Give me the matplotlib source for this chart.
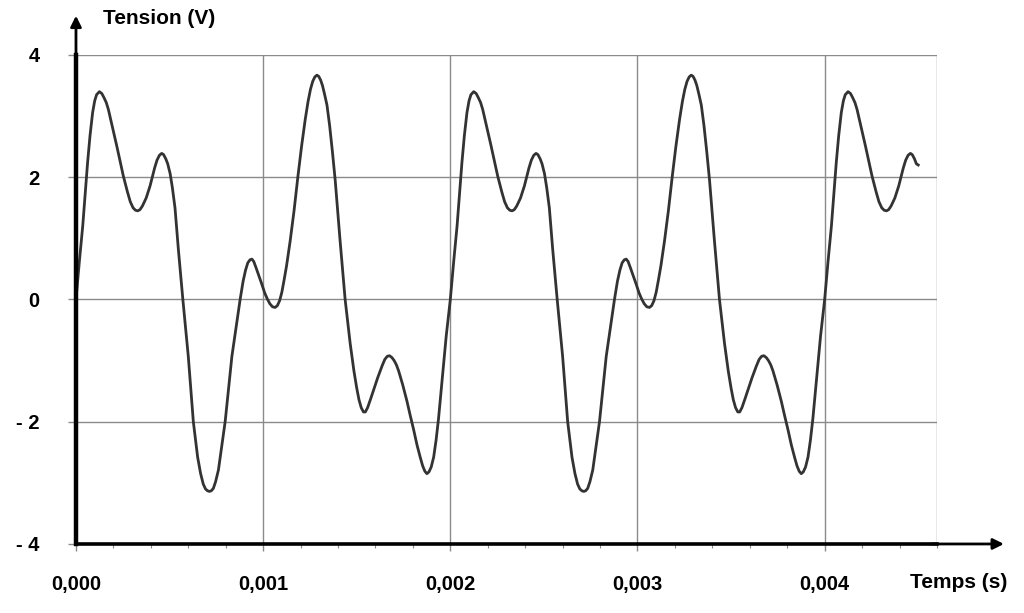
import numpy as np
import matplotlib

matplotlib.use('Agg')
import matplotlib.pyplot as plt
from matplotlib.ticker import FixedLocator, MultipleLocator

plt.rcParams['font.family'] = ['Liberation Sans', 'DejaVu Sans']

# Signal (time in ms, tension in V)
time_ms = [
    # 1st period
    0.000, 0.018, 0.036, 0.050, 0.062, 0.075, 0.089, 0.100, 0.110, 0.125,
    0.138, 0.150, 0.162, 0.173, 0.195, 0.218, 0.253, 0.275, 0.290, 0.305,
    0.318, 0.330, 0.342, 0.355, 0.375, 0.396, 0.420, 0.433, 0.446, 0.458,
    0.468, 0.480, 0.490, 0.503, 0.515, 0.529, 0.547, 0.571, 0.600, 0.627,
    0.650, 0.666, 0.680, 0.692, 0.703, 0.713, 0.723, 0.734, 0.746, 0.761,
    0.797, 0.833, 0.877, 0.893, 0.906, 0.918, 0.930, 0.940, 0.950, 0.962,
    0.978, 0.993, 1.008, 1.022, 1.036, 1.050, 1.064, 1.076, 1.088, 1.100,
    1.112, 1.125, 1.144, 1.165, 1.186, 1.205, 1.225, 1.240, 1.253, 1.265,
    1.276, 1.287, 1.297, 1.307, 1.317, 1.328, 1.341, 1.355, 1.370, 1.385,
    1.410, 1.438, 1.465, 1.485, 1.500, 1.512, 1.524, 1.536, 1.546, 1.558,
    1.575, 1.590, 1.612, 1.635, 1.650, 1.663, 1.675, 1.688, 1.700, 1.712,
    1.724, 1.746, 1.768, 1.786, 1.804, 1.822, 1.840, 1.852, 1.864, 1.875,
    1.886, 1.898, 1.911, 1.924, 1.937, 1.950, 1.964, 1.978, 1.991,
    # 2nd period
    2.000, 2.018, 2.036, 2.050, 2.062, 2.075, 2.089, 2.100, 2.110, 2.125,
    2.138, 2.150, 2.162, 2.173, 2.195, 2.218, 2.253, 2.275, 2.290, 2.305,
    2.318, 2.330, 2.342, 2.355, 2.375, 2.396, 2.420, 2.433, 2.446, 2.458,
    2.468, 2.480, 2.490, 2.503, 2.515, 2.529, 2.547, 2.571, 2.600, 2.627,
    2.650, 2.666, 2.680, 2.692, 2.703, 2.713, 2.723, 2.734, 2.746, 2.761,
    2.797, 2.833, 2.877, 2.893, 2.906, 2.918, 2.930, 2.940, 2.950, 2.962,
    2.978, 2.993, 3.008, 3.022, 3.036, 3.050, 3.064, 3.076, 3.088, 3.100,
    3.112, 3.125, 3.144, 3.165, 3.186, 3.205, 3.225, 3.240, 3.253, 3.265,
    3.276, 3.287, 3.297, 3.307, 3.317, 3.328, 3.341, 3.355, 3.370, 3.385,
    3.410, 3.438, 3.465, 3.485, 3.500, 3.512, 3.524, 3.536, 3.546, 3.558,
    3.575, 3.590, 3.612, 3.635, 3.650, 3.663, 3.675, 3.688, 3.700, 3.712,
    3.724, 3.746, 3.768, 3.786, 3.804, 3.822, 3.840, 3.852, 3.864, 3.875,
    3.886, 3.898, 3.911, 3.924, 3.937, 3.950, 3.964, 3.978, 3.991,
    # start of 3rd period
    4.000, 4.018, 4.036, 4.050, 4.062, 4.075, 4.089, 4.100, 4.110, 4.125,
    4.138, 4.150, 4.162, 4.173, 4.195, 4.218, 4.253, 4.275, 4.290, 4.305,
    4.318, 4.330, 4.342, 4.355, 4.375, 4.396, 4.420, 4.433, 4.446, 4.458,
    4.468, 4.480, 4.490, 4.500,
]
tension_v = [
    # 1st period
    0.00, 0.62, 1.20, 1.75, 2.24, 2.68, 3.06, 3.25, 3.35, 3.40,
    3.37, 3.30, 3.22, 3.11, 2.82, 2.51, 2.02, 1.76, 1.60, 1.50,
    1.46, 1.45, 1.47, 1.53, 1.66, 1.86, 2.15, 2.28, 2.36, 2.39,
    2.37, 2.30, 2.22, 2.06, 1.83, 1.50, 0.82, 0.00, -0.93, -2.00,
    -2.58, -2.85, -3.02, -3.10, -3.13, -3.14, -3.13, -3.09, -2.98, -2.79,
    -2.00, -0.93, 0.00, 0.30, 0.48, 0.60, 0.65, 0.66, 0.62, 0.52,
    0.38, 0.25, 0.11, 0.01, -0.07, -0.12, -0.13, -0.10, -0.02, 0.12,
    0.32, 0.55, 0.95, 1.45, 2.02, 2.50, 2.95, 3.24, 3.44, 3.57,
    3.64, 3.67, 3.65, 3.59, 3.50, 3.36, 3.18, 2.85, 2.42, 1.95,
    1.00, 0.00, -0.72, -1.17, -1.45, -1.64, -1.77, -1.84, -1.84, -1.77,
    -1.62, -1.48, -1.28, -1.09, -0.98, -0.93, -0.92, -0.95, -1.00, -1.07,
    -1.17, -1.40, -1.66, -1.90, -2.13, -2.38, -2.59, -2.72, -2.81, -2.85,
    -2.82, -2.74, -2.58, -2.30, -1.95, -1.52, -1.04, -0.60, -0.25,
    # 2nd period
    0.00, 0.62, 1.20, 1.75, 2.24, 2.68, 3.06, 3.25, 3.35, 3.40,
    3.37, 3.30, 3.22, 3.11, 2.82, 2.51, 2.02, 1.76, 1.60, 1.50,
    1.46, 1.45, 1.47, 1.53, 1.66, 1.86, 2.15, 2.28, 2.36, 2.39,
    2.37, 2.30, 2.22, 2.06, 1.83, 1.50, 0.82, 0.00, -0.93, -2.00,
    -2.58, -2.85, -3.02, -3.10, -3.13, -3.14, -3.13, -3.09, -2.98, -2.79,
    -2.00, -0.93, 0.00, 0.30, 0.48, 0.60, 0.65, 0.66, 0.62, 0.52,
    0.38, 0.25, 0.11, 0.01, -0.07, -0.12, -0.13, -0.10, -0.02, 0.12,
    0.32, 0.55, 0.95, 1.45, 2.02, 2.50, 2.95, 3.24, 3.44, 3.57,
    3.64, 3.67, 3.65, 3.59, 3.50, 3.36, 3.18, 2.85, 2.42, 1.95,
    1.00, 0.00, -0.72, -1.17, -1.45, -1.64, -1.77, -1.84, -1.84, -1.77,
    -1.62, -1.48, -1.28, -1.09, -0.98, -0.93, -0.92, -0.95, -1.00, -1.07,
    -1.17, -1.40, -1.66, -1.90, -2.13, -2.38, -2.59, -2.72, -2.81, -2.85,
    -2.82, -2.74, -2.58, -2.30, -1.95, -1.52, -1.04, -0.60, -0.25,
    # start of 3rd period
    0.00, 0.62, 1.20, 1.75, 2.24, 2.68, 3.06, 3.25, 3.35, 3.40,
    3.37, 3.30, 3.22, 3.11, 2.82, 2.51, 2.02, 1.76, 1.60, 1.50,
    1.46, 1.45, 1.47, 1.53, 1.66, 1.86, 2.15, 2.28, 2.36, 2.39,
    2.37, 2.30, 2.22, 2.20,
]

x_ticks = [0.000, 0.001, 0.002, 0.003, 0.004]
x_tick_labels = ['0,000', '0,001', '0,002', '0,003', '0,004']
y_ticks = [-4, -2, 0, 2, 4]
y_tick_labels = ['- 4', '- 2', '0', '2', '4']

t = np.array(time_ms) / 1000.0
v = np.array(tension_v)

fig = plt.figure(figsize=(10.24, 6.13), dpi=100)
ax = fig.add_axes([0.0742, 0.1126, 0.8408, 0.7977])
ax.set_xlim(0, 0.0046)
ax.set_ylim(-4, 4)

grid_color = '#8a8a8a'
# grille (le cadre haut/droit en fait partie)
for xv in [0.001, 0.002, 0.003, 0.004, 0.0046]:
    ax.axvline(xv, color=grid_color, lw=1.0, zorder=1)
for yv in [-2, 0, 2, 4]:
    ax.axhline(yv, color=grid_color, lw=1.0, zorder=1)

ax.plot(t, v, color='#333333', lw=2.0, solid_joinstyle='round', zorder=3)

for side in ['top', 'right']:
    ax.spines[side].set_visible(False)
ax.spines['left'].set_linewidth(3.2)
ax.spines['bottom'].set_linewidth(2.6)
ax.spines['left'].set_zorder(4)
ax.spines['bottom'].set_zorder(4)

ax.xaxis.set_major_locator(FixedLocator(x_ticks))
ax.set_xticklabels(x_tick_labels)
ax.xaxis.set_minor_locator(MultipleLocator(0.0002))
ax.yaxis.set_major_locator(FixedLocator(y_ticks))
ax.set_yticklabels(y_tick_labels)

ax.tick_params(axis='x', which='major', length=5, width=1.0, color=grid_color,
               pad=17, labelsize=14.5)
ax.tick_params(axis='x', which='minor', length=3, width=0.8, color=grid_color)
ax.tick_params(axis='y', which='major', length=6, width=1.0, color=grid_color,
               pad=20, labelsize=14.5)
for lbl in ax.get_xticklabels() + ax.get_yticklabels():
    lbl.set_fontweight('bold')

# flèches des axes
ax.annotate('', xy=(0, 1.086), xytext=(0, 0.99), xycoords='axes fraction',
            arrowprops=dict(arrowstyle='-|>', color='black', lw=2.0,
                            mutation_scale=16), annotation_clip=False)
ax.annotate('', xy=(1.081, 0), xytext=(0.99, 0), xycoords='axes fraction',
            arrowprops=dict(arrowstyle='-|>', color='black', lw=2.0,
                            mutation_scale=16), annotation_clip=False)

fig.text(103 / 1024, 1 - 18 / 613, 'Tension (V)', ha='left', va='center',
         fontsize=15, fontweight='bold')
fig.text(1007 / 1024, 1 - 583 / 613, 'Temps (s)', ha='right', va='center',
         fontsize=15, fontweight='bold')

fig.savefig('out.png', dpi=100)
plt.close(fig)
